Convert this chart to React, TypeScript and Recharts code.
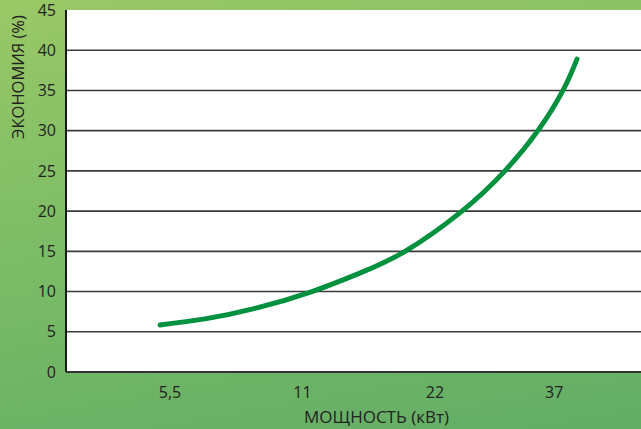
import { LineChart, Line, XAxis, YAxis, CartesianGrid, Label } from 'recharts'

// x positions are in "tick units": 5,5 sits at 1, 11 at 2, 22 at 3, 37 at 3.9
const xTickPos = [1, 2, 3, 3.9]
const xTickLabels = ['5,5', '11', '22', '37']
const yTicks = [0, 5, 10, 15, 20, 25, 30, 35, 40, 45]

// curve
const curveX = [0.925, 1.264, 1.642, 2.072, 2.434, 2.774, 3.204, 3.528, 3.777, 3.966, 4.072]
const curveY = [5.85, 6.6, 7.9, 10, 12.3, 15, 20, 25, 30, 35, 38.9]

const data = curveX.map((x, i) => ({ x, y: curveY[i] }))

const FONT = '"Open Sans", "Noto Sans", sans-serif'

export default function App() {
  return (
    <div
      style={{
        position: 'absolute',
        top: 0,
        left: 0,
        width: 641,
        height: 429,
        background: 'linear-gradient(170deg, #9ac866 0%, #7dbd66 45%, #62ad66 100%)',
        fontFamily: FONT,
      }}
    >
      <LineChart width={641} height={429} data={data} margin={{ top: 10, right: 0, bottom: 0, left: 0 }}>
        <CartesianGrid
          vertical={false}
          fill="#ffffff"
          fillOpacity={1}
          stroke="#3a3a3a"
          strokeWidth={1.6}
          horizontalValues={[5, 10, 15, 20, 25, 30, 35, 40]}
        />
        <XAxis
          dataKey="x"
          type="number"
          domain={[0.215, 4.555]}
          ticks={xTickPos}
          tickFormatter={(v: number) => xTickLabels[xTickPos.indexOf(v)] ?? ''}
          axisLine={{ stroke: '#333', strokeWidth: 2 }}
          tickLine={false}
          tickSize={0}
          tickMargin={15}
          height={57}
          tick={{ fill: '#222', fontSize: 16, fontFamily: FONT }}
          allowDataOverflow
        >
          <Label
            value="МОЩНОСТЬ (кВт)"
            position="insideBottom"
            offset={6}
            dx={23}
            style={{ fill: '#222', fontSize: 17, fontFamily: FONT }}
          />
        </XAxis>
        <YAxis
          type="number"
          domain={[0, 45]}
          ticks={yTicks}
          width={66}
          axisLine={{ stroke: '#1a1a1a', strokeWidth: 2 }}
          tickLine={false}
          tickSize={0}
          tickMargin={10}
          tick={{ fill: '#222', fontSize: 16, fontFamily: FONT }}
        >
          <Label
            content={() => (
              <text
                x={24}
                y={77}
                transform="rotate(-90 24 77)"
                textAnchor="middle"
                fill="#222"
                fontSize={16.5}
                fontFamily={FONT}
              >
                ЭКОНОМИЯ (%)
              </text>
            )}
          />
        </YAxis>
        <Line
          type="natural"
          dataKey="y"
          stroke="#00913f"
          strokeWidth={5}
          strokeLinecap="round"
          dot={false}
          isAnimationActive={false}
        />
      </LineChart>
    </div>
  )
}
